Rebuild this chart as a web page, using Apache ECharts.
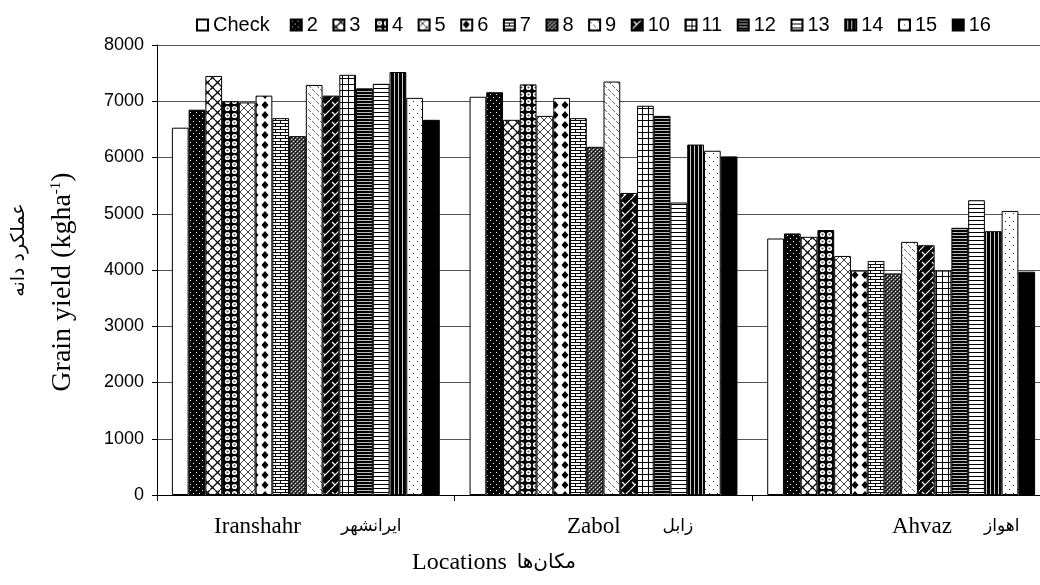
<!DOCTYPE html>
<html>
<head>
<meta charset="utf-8">
<style>
  html, body { margin: 0; padding: 0; background: #fff; }
  #chart { width: 1040px; height: 585px; }
</style>
<script src="https://cdn.jsdelivr.net/npm/echarts@6/dist/echarts.min.js"></script>
</head>
<body>
<div id="chart"></div>
<script>
// locations (x categories)
const locationsEn = ['Iranshahr', 'Zabol', 'Ahvaz'];
const locationsFa = ['ایرانشهر', 'زابل', 'اهواز'];

// genotypes (legend / series)
const genotypes = ['Check', '2', '3', '4', '5', '6', '7', '8', '9', '10', '11', '12', '13', '14', '15', '16'];

// grain yield (kg/ha) per genotype, one array per location
const iranshahr = [6530, 6850, 7450, 7000, 6980, 7100, 6700, 6380, 7290, 7100, 7470, 7230, 7310, 7520, 7060, 6670];
const zabol     = [7080, 7160, 6670, 7300, 6740, 7060, 6700, 6190, 7350, 5370, 6920, 6740, 5200, 6230, 6120, 6020];
const ahvaz     = [4560, 4650, 4590, 4710, 4250, 3990, 4160, 3940, 4500, 4440, 3990, 4750, 5240, 4690, 5050, 3970];

const yTicks = [0, 1000, 2000, 3000, 4000, 5000, 6000, 7000, 8000];

const serif = '"Liberation Serif", "Times New Roman", "DejaVu Sans", serif';
const sans = '"Liberation Sans", Arial, sans-serif';

// plot box
const gridLeft = 157, gridWidth = 893;
// where each category label starts and the space before its persian part (the original labels sit off-centre)
const labelStart = [214, 567, 892];
const labelGap = [40, 42, 32];
const enSize = 23, faSize = 17;

// measure text to place the off-centre labels
const mctx = document.createElement('canvas').getContext('2d');
function textW(str, size) {
  mctx.font = size + 'px ' + serif;
  return mctx.measureText(str).width;
}
const labelLead = locationsEn.map((en, i) => {
  const c = gridLeft + gridWidth * (i + 0.5) / locationsEn.length;
  const lead = 2 * (labelStart[i] - c) + textW(en, enSize) + labelGap[i] + textW(locationsFa[i], faSize);
  return Math.max(0, Math.round(lead));
});

// small canvas tiles used as hatch fills
function tile(w, h, draw) {
  const c = document.createElement('canvas');
  c.width = w; c.height = h;
  const ctx = c.getContext('2d');
  draw(ctx, w, h);
  return { image: c, repeat: 'repeat' };
}
function px(ctx, col, pts) {
  ctx.fillStyle = col;
  pts.forEach(p => ctx.fillRect(p[0], p[1], p[2] || 1, p[3] || 1));
}
function line(ctx, col, w, x1, y1, x2, y2) {
  ctx.strokeStyle = col; ctx.lineWidth = w;
  ctx.beginPath(); ctx.moveTo(x1, y1); ctx.lineTo(x2, y2); ctx.stroke();
}

const fills = [
  '#ffffff',
  // 2 black with white dots
  tile(6, 6, (c, w, h) => { px(c, '#000', [[0, 0, w, h]]); px(c, '#fff', [[1, 1], [4, 4]]); }),
  // 3 zigzag weave
  tile(10, 10, (c, w, h) => {
    px(c, '#fff', [[0, 0, w, h]]);
    line(c, '#000', 1.3, -1, 11, 11, -1);
    line(c, '#000', 1.3, 0, 5, 5, 10);
    line(c, '#000', 1.3, 5, 0, 10, 5);
  }),
  // 4 black with white rings
  tile(7, 7, (c, w, h) => {
    px(c, '#000', [[0, 0, w, h]]);
    c.fillStyle = '#fff'; c.beginPath(); c.arc(3.5, 3.5, 2.6, 0, Math.PI * 2); c.fill();
    c.fillStyle = '#555'; c.beginPath(); c.arc(3.5, 3.5, 1.1, 0, Math.PI * 2); c.fill();
  }),
  // 5 diagonal crosshatch
  tile(8, 8, (c, w, h) => {
    px(c, '#fff', [[0, 0, w, h]]);
    line(c, '#444', 1, 0, 0, 8, 8);
    line(c, '#444', 1, 0, 8, 8, 0);
  }),
  // 6 diamonds
  tile(10, 10, (c, w, h) => {
    px(c, '#fff', [[0, 0, w, h]]);
    c.fillStyle = '#000';
    c.beginPath(); c.moveTo(5, 1); c.lineTo(8.5, 5); c.lineTo(5, 9); c.lineTo(1.5, 5); c.closePath(); c.fill();
  }),
  // 7 bricks
  tile(10, 6, (c, w, h) => {
    px(c, '#fff', [[0, 0, w, h]]);
    px(c, '#000', [[0, 0, 10, 1], [0, 3, 10, 1], [0, 0, 1, 3], [5, 3, 1, 3]]);
  }),
  // 8 dark dither
  tile(4, 4, (c, w, h) => {
    px(c, '#555', [[0, 0, w, h]]);
    px(c, '#000', [[0, 0], [2, 2], [1, 3], [3, 1]]);
    px(c, '#ddd', [[1, 1], [3, 3]]);
  }),
  // 9 short diagonal dashes
  tile(8, 8, (c, w, h) => {
    px(c, '#fff', [[0, 0, w, h]]);
    line(c, '#666', 1, 0, 1, 3, 4);
    line(c, '#666', 1, 4, 5, 7, 8);
  }),
  // 10 black with white zigzag
  tile(10, 10, (c, w, h) => {
    px(c, '#000', [[0, 0, w, h]]);
    line(c, '#fff', 1.2, -1, 11, 11, -1);
    line(c, '#fff', 1.2, 2, 2, 5, 5);
  }),
  // 11 grid
  tile(6, 6, (c, w, h) => {
    px(c, '#fff', [[0, 0, w, h]]);
    px(c, '#000', [[0, 0, 6, 1], [0, 0, 1, 6]]);
  }),
  // 12 black with light horizontal lines
  tile(4, 3, (c, w, h) => {
    px(c, '#000', [[0, 0, w, h]]);
    px(c, '#bbb', [[0, 1, 4, 1]]);
  }),
  // 13 horizontal lines
  tile(4, 4, (c, w, h) => {
    px(c, '#fff', [[0, 0, w, h]]);
    px(c, '#000', [[0, 0, 4, 1]]);
  }),
  // 14 vertical stripes
  tile(4, 4, (c, w, h) => {
    px(c, '#000', [[0, 0, w, h]]);
    px(c, '#ccc', [[2, 0, 1, 4]]);
  }),
  // 15 sparse dots
  tile(8, 8, (c, w, h) => {
    px(c, '#fff', [[0, 0, w, h]]);
    px(c, '#333', [[1, 1], [5, 5]]);
  }),
  '#000000'
];

const series = genotypes.map((name, i) => ({
  name: name,
  type: 'bar',
  barGap: '0%',
  barCategoryGap: '10%',
  data: [iranshahr[i], zabol[i], ahvaz[i]],
  itemStyle: { color: fills[i], borderColor: '#000', borderWidth: 1 }
}));

// rich styles for the category labels, one pair per category
const labelRich = {};
locationsEn.forEach((en, i) => {
  labelRich['en' + i] = { fontFamily: serif, fontSize: enSize, color: '#000', padding: [0, 0, 0, labelLead[i]] };
  labelRich['fa' + i] = { fontFamily: serif, fontSize: faSize, color: '#000', padding: [0, 0, 0, labelGap[i]] };
});

const chart = echarts.init(document.getElementById('chart'), null, { renderer: 'canvas' });

chart.setOption({
  animation: false,
  backgroundColor: '#fff',
  legend: {
    data: genotypes,
    left: 196,
    top: 15,
    padding: 0,
    itemWidth: 11,
    itemHeight: 11,
    itemGap: 14.5,
    icon: 'rect',
    formatter: n => (n === 'Check' ? n + ' ' : n),
    textStyle: { fontFamily: sans, fontSize: 20, color: '#000' }
  },
  grid: { left: gridLeft, width: gridWidth, top: 45, bottom: 90, containLabel: false, outerBoundsMode: 'none' },
  xAxis: {
    type: 'category',
    data: locationsEn,
    axisLine: { lineStyle: { color: '#000', width: 1 } },
    axisTick: { show: true, length: 6, interval: 0, lineStyle: { color: '#000' } },
    axisLabel: {
      margin: 20,
      formatter: (v, idx) => '{en' + idx + '|' + v + '}{fa' + idx + '|' + locationsFa[idx] + '}',
      rich: labelRich
    }
  },
  yAxis: {
    type: 'value',
    min: yTicks[0],
    max: yTicks[yTicks.length - 1],
    interval: 1000,
    axisLine: { show: true, lineStyle: { color: '#000', width: 1 } },
    axisTick: { show: true, length: 5, lineStyle: { color: '#000' } },
    axisLabel: { fontFamily: sans, fontSize: 18, color: '#000', margin: 13, formatter: v => String(v) },
    splitLine: { show: true, lineStyle: { color: '#555', width: 1 } }
  },
  graphic: [
    {
      type: 'text',
      x: 63, y: 282,
      rotation: Math.PI / 2,
      style: {
        text: '{a|Grain yield (kgha}{s|-1}{a|)}',
        align: 'center',
        verticalAlign: 'middle',
        rich: {
          a: { fontFamily: serif, fontSize: 28, fill: '#000' },
          s: { fontFamily: serif, fontSize: 15, fill: '#000', verticalAlign: 'top', padding: [0, 0, 12, 0] }
        }
      }
    },
    {
      type: 'text',
      x: 19, y: 250,
      rotation: Math.PI / 2,
      style: {
        text: 'عملکرد دانه',
        align: 'center',
        verticalAlign: 'middle',
        font: '19px "DejaVu Sans", sans-serif',
        fill: '#000'
      }
    },
    {
      type: 'text',
      x: 494, y: 563,
      style: {
        text: '{a|Locations}   {b|مکان‌ها}',
        align: 'center',
        verticalAlign: 'middle',
        rich: {
          a: { fontFamily: serif, fontSize: 24, fill: '#000' },
          b: { fontFamily: serif, fontSize: 20, fill: '#000' }
        }
      }
    }
  ],
  series: series
});
</script>
</body>
</html>
